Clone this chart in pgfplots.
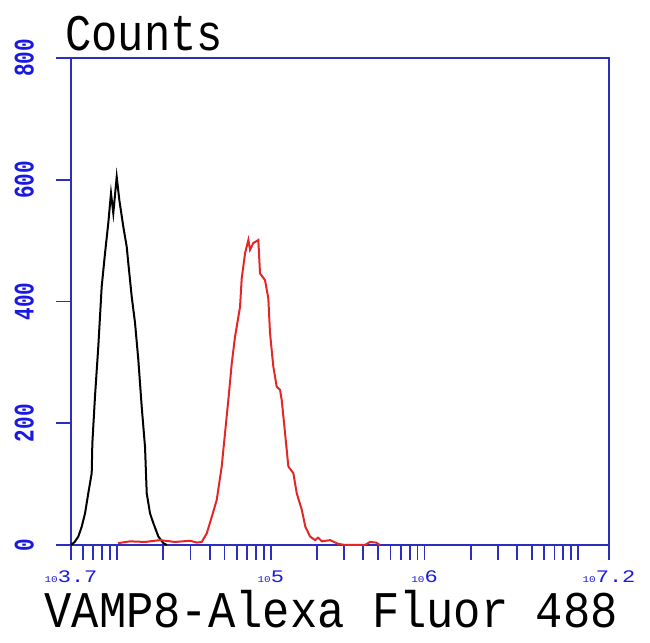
\documentclass[border=0pt]{standalone}
\usepackage{pgfplots}
\pgfplotsset{compat=1.18}
\usepackage{graphicx}
\usepackage{fontspec}
\newfontfamily\mono{Liberation Mono}
\definecolor{axisblue}{RGB}{45,45,190}
\definecolor{lblblue}{RGB}{25,25,225}
\definecolor{histred}{RGB}{228,38,38}
\newcommand{\xl}[1]{\scalebox{1}[0.8]{{\fontsize{5.5}{5.5}\selectfont 10}#1}}
\newcommand{\yl}[1]{\scalebox{1}[1.35]{#1}}
\begin{document}
\begin{tikzpicture}
\useasboundingbox (-35.5pt,-49pt) rectangle (289.5pt,272.5pt);
\begin{axis}[
  at={(0,0)}, anchor=south west,
  scale only axis, width=269pt, height=243.5pt,
  xmode=log, xmin=5011.872, xmax=15848932,
  ymin=0, ymax=800,
  clip=false,
  axis line style={axisblue, line width=1pt},
  every tick/.style={axisblue, line width=0.9pt},
  tick align=outside,
  xtick pos=bottom, ytick pos=left,
  major tick length=7.5pt, minor tick length=7.5pt,
  xtick={5011.872,100000,1000000,15848932},
  xticklabels={\xl{3.7},\xl{5},\xl{6},\xl{7.2}},
  minor xtick={6000,7000,8000,9000,10000,20000,30000,40000,50000,60000,70000,80000,90000,200000,300000,400000,500000,600000,700000,800000,900000,2000000,3000000,4000000,5000000,6000000,7000000,8000000,9000000,10000000},
  xticklabel style={font=\mono\fontsize{11}{11}\selectfont, text=lblblue, anchor=north, yshift=-2pt},
  ytick={0,200,400,600,800},
  yticklabels={\yl{0},\yl{200},\yl{400},\yl{600},\yl{800}},
  yticklabel style={font=\mono\bfseries\fontsize{10.5}{10.5}\selectfont, text=lblblue, rotate=90, anchor=south},
  yticklabel shift=7.5pt,
]
\addplot[black, line width=1pt] coordinates {
(5012,0) (5300,5) (5593,14) (5884,30) (6184,52) (6494,85) (6834,118) (6900,167)
(7179,244) (7544,326) (7936,424) (8340,479) (8763,529) (9124,578) (9445,545)
(9938,605) (10332,567) (10970,523) (11544,490) (11824,463) (12440,408) (13075,365)
(13740,304) (14454,227) (15189,161) (15580,85) (16370,52) (17200,36) (18540,14)
(19980,3) (21020,0)
};
\addplot[histred, line width=1pt] coordinates {
(10134,3) (12132,6) (15189,5) (19010,8) (23810,5) (29800,7) (33000,4) (35520,5)
(38280,19) (41260,46) (44460,74) (47910,129) (50350,184) (52900,238) (55680,298)
(58480,342) (63030,391) (64650,438) (67950,479) (71400,501) (73230,485) (76930,496)
(82900,501) (85050,446) (91660,435) (96310,405) (98790,348) (103800,293) (109200,260)
(114760,255) (117700,238) (123700,184) (130000,129) (140100,118) (147400,85)
(158900,58) (167700,30) (179900,14) (193900,8) (202800,12) (215200,6) (242700,8)
(273500,2) (303900,0) (410000,0) (441700,5) (483100,4) (512900,0)
};
\draw[axisblue, line width=1pt] (rel axis cs:0,1) -- ++(-9pt,0);
\node[font=\mono\fontsize{21.9}{22}\selectfont, anchor=base west, inner sep=0pt]
  at ([xshift=-3pt,yshift=4pt]rel axis cs:0,1) {\scalebox{1}[1.17]{Counts}};
\node[font=\mono\fontsize{22.75}{23}\selectfont, anchor=base west, inner sep=0pt]
  at ([xshift=-13.5pt,yshift=-41.5pt]rel axis cs:0,0) {\scalebox{1}[1.13]{VAMP8-Alexa Fluor 488}};
\end{axis}
\end{tikzpicture}
\end{document}
